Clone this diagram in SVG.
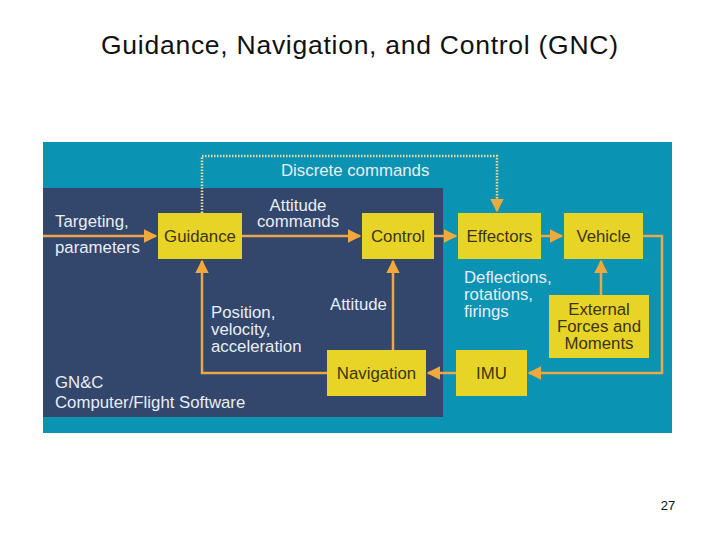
<svg xmlns="http://www.w3.org/2000/svg" width="720" height="540" viewBox="0 0 720 540">
<defs>
<style>
.t{font-family:"Liberation Sans",Arial,sans-serif;}
.w{fill:#e8eef6;font-size:16.8px;}
.b{fill:#3a3418;font-size:16.8px;}
.box{fill:#e8d426;}
.ln{stroke:#e9a94a;stroke-width:2.5;fill:none;}
.dot{stroke:#e8d9a0;stroke-width:2.5;fill:none;stroke-dasharray:1.5 1.5;}
</style>
<marker id="ah" viewBox="0 0 10 10" refX="9" refY="5" markerWidth="5.5" markerHeight="5.5" orient="auto" markerUnits="strokeWidth">
<path d="M0,0 L10,5 L0,10 z" fill="#f0a93a"/>
</marker>
</defs>
<rect width="720" height="540" fill="#ffffff"/>
<text class="t" x="101" y="54" font-size="26.5" textLength="517" lengthAdjust="spacing" fill="#111">Guidance, Navigation, and Control (GNC)</text>
<rect x="43" y="142" width="629" height="291" fill="#0a93b2"/>
<rect x="43" y="188" width="400" height="229" fill="#33466b"/>

<g id="connectors">
<path class="dot" d="M202,213 V156 H497 V211" marker-end="url(#ah)"/>
<path class="ln" d="M43,236 H156" marker-end="url(#ah)"/>
<path class="ln" d="M242,236 H360" marker-end="url(#ah)"/>
<path class="ln" d="M434,236 H456" marker-end="url(#ah)"/>
<path class="ln" d="M541,236 H562" marker-end="url(#ah)"/>
<path class="ln" d="M643,236 H662 V373 H529" marker-end="url(#ah)"/>
<path class="ln" d="M456,373 H428" marker-end="url(#ah)"/>
<path class="ln" d="M327,373 H202 V261" marker-end="url(#ah)"/>
<path class="ln" d="M393,350 V261" marker-end="url(#ah)"/>
<path class="ln" d="M601,295 V261" marker-end="url(#ah)"/>
</g>

<g id="guidance"><rect class="box" x="158" y="213" width="84" height="46"/><text class="t b" x="200" y="242" text-anchor="middle">Guidance</text></g>
<g id="control"><rect class="box" x="362" y="213" width="72" height="46"/><text class="t b" x="398" y="242" text-anchor="middle">Control</text></g>
<g id="effectors"><rect class="box" x="458" y="213" width="83" height="46"/><text class="t b" x="499.5" y="242" text-anchor="middle">Effectors</text></g>
<g id="vehicle"><rect class="box" x="564" y="213" width="79" height="46"/><text class="t b" x="603.5" y="242" text-anchor="middle">Vehicle</text></g>
<g id="external"><rect class="box" x="549" y="295" width="100" height="63"/><text class="t b" x="599" y="315" text-anchor="middle">External</text><text class="t b" x="599" y="332" text-anchor="middle">Forces and</text><text class="t b" x="599" y="349" text-anchor="middle">Moments</text></g>
<g id="imu"><rect class="box" x="456" y="350" width="71" height="46"/><text class="t b" x="491.5" y="379" text-anchor="middle">IMU</text></g>
<g id="navigation"><rect class="box" x="327" y="350" width="99" height="46"/><text class="t b" x="376.5" y="379" text-anchor="middle">Navigation</text></g>

<g id="labels">
<text class="t w" x="281" y="176">Discrete commands</text>
<text class="t w" x="55" y="227">Targeting,</text>
<text class="t w" x="55" y="253">parameters</text>
<text class="t w" x="298" y="211" text-anchor="middle">Attitude</text>
<text class="t w" x="298" y="227" text-anchor="middle">commands</text>
<text class="t w" x="211" y="318">Position,</text>
<text class="t w" x="211" y="335">velocity,</text>
<text class="t w" x="211" y="352">acceleration</text>
<text class="t w" x="330" y="310">Attitude</text>
<text class="t w" x="464" y="283">Deflections,</text>
<text class="t w" x="464" y="300">rotations,</text>
<text class="t w" x="464" y="317">firings</text>
<text class="t w" x="55" y="388">GN&amp;C</text>
<text class="t w" x="55" y="408">Computer/Flight Software</text>
</g>
<text class="t" x="668" y="510" font-size="13" text-anchor="middle" fill="#111">27</text>
</svg>
